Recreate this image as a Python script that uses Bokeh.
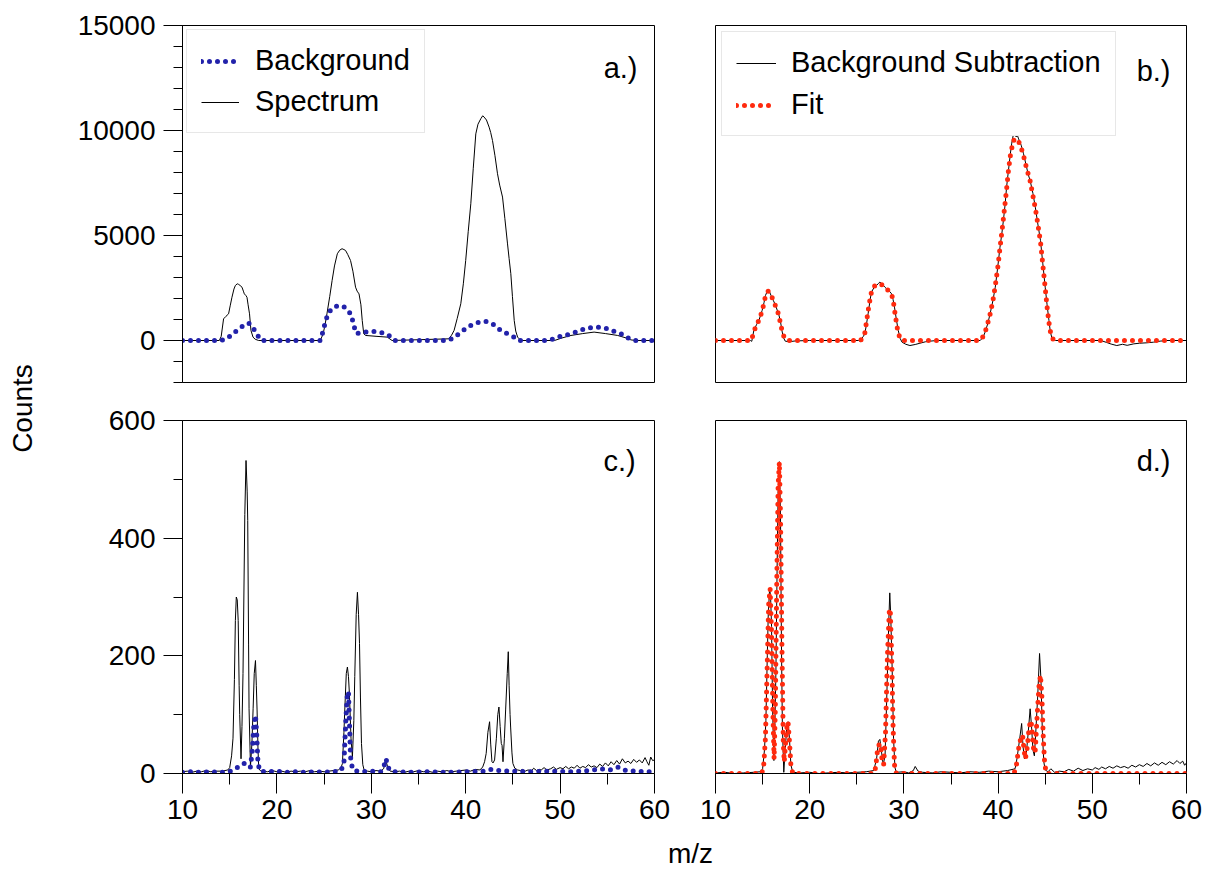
import math
from bokeh.plotting import figure
from bokeh.models import Range1d, FixedTicker, Legend, LegendItem, Label
from bokeh.layouts import row, column
from bokeh.embed import file_html
from bokeh.resources import INLINE

FONT = "Liberation Sans"
BLUE = "#2222aa"
RED = "#ff2a0e"

# ---- data: (m/z, counts) pairs ----
spectrum_a = [
    (10, 0), (13.9, 0), (14.1, 200), (14.35, 1030), (14.6, 1150), (14.88, 1270), (15.05, 1650),
    (15.24, 2060), (15.45, 2450), (15.6, 2620), (15.8, 2700), (15.95, 2670), (16.1, 2620),
    (16.3, 2540), (16.45, 2350), (16.55, 2220), (16.7, 2150), (16.83, 2060), (16.95, 1700),
    (17.1, 1270), (17.25, 480), (17.47, 160), (17.7, 60), (18.07, 0), (24.6, 0), (24.9, 320),
    (25.1, 750), (25.3, 1270), (25.6, 2100), (25.85, 2860), (26.1, 3550), (26.4, 4130),
    (26.65, 4300), (26.9, 4370), (27.1, 4330), (27.27, 4290), (27.5, 4100), (27.8, 3810),
    (28.05, 3300), (28.33, 2540), (28.5, 2350), (28.7, 2220), (28.9, 1700), (29.04, 950),
    (29.2, 320), (29.4, 240), (30.5, 200), (31.7, 160), (32.2, 0), (38.2, 80), (38.5, 250),
    (38.77, 480), (39.1, 1050), (39.48, 1750), (39.75, 2700), (40.0, 3810), (40.27, 5200),
    (40.54, 6510), (40.8, 8200), (41.07, 9840), (41.3, 10300), (41.6, 10560), (41.8, 10700),
    (41.95, 10640), (42.2, 10500), (42.48, 10160), (42.65, 9900), (42.84, 9520), (43.1, 8800),
    (43.37, 7940), (43.6, 7400), (43.9, 6830), (44.15, 5800), (44.43, 4600), (44.6, 3900),
    (44.78, 3180), (44.95, 2100), (45.14, 950), (45.3, 450), (45.5, 160), (45.85, 0),
    (49.4, 0), (50.2, 120), (51.15, 240), (52.4, 330), (53.6, 400), (54.8, 330), (56.1, 240),
    (57.0, 120), (57.5, 30), (58.0, 0), (60, 0),
]

background_a = [
    (10, 0), (14.0, 0), (14.5, 60), (14.88, 160), (15.3, 310), (15.77, 480), (16.1, 600),
    (16.48, 715), (16.75, 790), (17.0, 830), (17.25, 750), (17.54, 560), (17.75, 380),
    (17.96, 240), (18.3, 0), (24.6, 0), (24.8, 300), (25.04, 715), (25.25, 1050), (25.5, 1350),
    (26.03, 1590), (26.4, 1650), (26.67, 1670), (27.0, 1630), (27.27, 1560), (27.55, 1420),
    (27.8, 1270), (28.08, 870), (28.25, 550), (28.44, 320), (28.8, 380), (29.2, 400),
    (29.8, 425), (30.3, 430), (30.8, 400), (31.34, 350), (31.7, 280), (32.05, 190), (32.47, 0),
    (38.06, 0), (38.77, 130), (39.1, 250), (39.48, 400), (40.0, 560), (40.54, 715), (41.0, 810),
    (41.42, 875), (41.8, 900), (42.13, 905), (42.5, 870), (42.84, 795), (43.3, 640),
    (43.7, 480), (44.0, 400), (44.43, 320), (44.8, 230), (45.14, 160), (45.6, 0), (48.7, 0),
    (49.2, 60), (49.74, 160), (50.4, 230), (51.15, 320), (51.9, 440), (52.57, 555),
    (53.3, 620), (53.98, 635), (54.5, 615), (55.05, 555), (55.7, 440), (56.46, 320),
    (56.9, 200), (57.35, 80), (57.9, 0), (60, 0),
]

subtracted_b = [
    (10, 0), (13.7, 0), (13.85, -40), (14.07, 480), (14.35, 750), (14.6, 950), (14.95, 1430),
    (15.15, 1800), (15.3, 2140), (15.45, 2300), (15.6, 2390), (15.75, 2300), (15.9, 2140),
    (16.15, 1900), (16.37, 1670), (16.55, 1450), (16.7, 1270), (16.9, 900), (17.05, 480),
    (17.2, 150), (17.4, -30), (17.8, -60), (18.5, -20), (20, 0), (25.2, 0), (25.4, -60),
    (25.5, 80), (25.7, 200), (25.85, 320), (26.0, 700), (26.2, 1270), (26.4, 1900),
    (26.55, 2300), (26.8, 2500), (27.1, 2620), (27.3, 2720), (27.45, 2780), (27.6, 2720),
    (27.8, 2640), (27.98, 2540), (28.3, 2400), (28.5, 2330), (28.7, 2220), (28.85, 1950),
    (29.0, 1590), (29.2, 1000), (29.4, 480), (29.6, 100), (29.8, -80), (30.2, -180),
    (30.64, -240), (31.2, -190), (31.7, -130), (32.3, -60), (32.8, -30), (33.5, 0), (38.1, 0),
    (38.4, 150), (38.62, 400), (38.9, 800), (39.15, 1270), (39.45, 1900), (39.7, 2540),
    (39.95, 3450), (40.2, 4440), (40.4, 5100), (40.56, 5710), (40.75, 6500), (40.9, 7300),
    (41.1, 8100), (41.3, 8890), (41.45, 9400), (41.6, 9760), (41.75, 9820), (41.9, 9700),
    (42.05, 9760), (42.18, 9600), (42.45, 9300), (42.7, 8890), (43.0, 8300), (43.2, 7900),
    (43.4, 7620), (43.7, 7000), (43.95, 6350), (44.2, 5600), (44.5, 4760), (44.75, 3650),
    (45.0, 2540), (45.2, 1700), (45.4, 950), (45.55, 400), (45.74, 80), (46.1, 0), (50.9, 0),
    (51.5, -90), (52.0, -170), (52.6, -240), (53.2, -180), (53.7, -230), (54.4, -160),
    (55.0, -130), (55.8, -110), (56.5, -80), (57.2, -30), (57.9, 0), (60, 0),
]

fit_b = [
    (10, 0), (13.8, 0), (14.07, 400), (14.3, 700), (14.6, 950), (14.95, 1400), (15.3, 2100),
    (15.6, 2350), (15.9, 2150), (16.2, 1850), (16.45, 1550), (16.7, 1250), (16.95, 700),
    (17.15, 300), (17.4, 80), (17.7, 0), (25.4, 0), (25.6, 150), (25.85, 350), (26.1, 1100),
    (26.3, 1700), (26.55, 2300), (26.9, 2600), (27.3, 2700), (27.6, 2680), (28.0, 2520),
    (28.4, 2360), (28.7, 2200), (28.9, 1800), (29.1, 1150), (29.35, 450), (29.6, 80),
    (29.9, 0), (38.1, 0), (38.5, 250), (38.8, 650), (39.15, 1250), (39.45, 1900), (39.7, 2600),
    (40.0, 3600), (40.25, 4600), (40.55, 5750), (40.9, 7200), (41.1, 8100), (41.3, 8800),
    (41.6, 9500), (41.85, 9620), (42.1, 9550), (42.4, 9250), (42.7, 8800), (43.0, 8250),
    (43.4, 7600), (43.95, 6300), (44.2, 5600), (44.5, 4700), (44.75, 3600), (45.0, 2500),
    (45.2, 1600), (45.4, 850), (45.6, 300), (45.85, 50), (46.1, 0), (60, 0),
]

spectrum_c = [
    (10, 3), (10.5, 4), (11, 2), (11.5, 4), (12, 3), (12.5, 5), (13, 3), (13.5, 4), (14, 4),
    (14.5, 5), (14.8, 6), (15.0, 10), (15.2, 30), (15.35, 60), (15.5, 160), (15.6, 260),
    (15.7, 300), (15.8, 295), (15.9, 260), (16.0, 150), (16.06, 100), (16.2, 25), (16.3, 80),
    (16.41, 170), (16.5, 300), (16.6, 440), (16.73, 532), (16.85, 480), (16.91, 430),
    (17.0, 220), (17.05, 110), (17.2, 12), (17.35, 50), (17.48, 110), (17.6, 170),
    (17.73, 192), (17.82, 150), (17.9, 108), (18.0, 40), (18.08, 8), (18.3, 4), (19, 3),
    (19.5, 5), (20, 3), (20.5, 4), (21, 2), (21.5, 4), (22, 3), (22.5, 4), (23, 3), (23.5, 5),
    (24, 3), (24.5, 4), (25, 3), (25.5, 4), (26, 5), (26.5, 6), (26.8, 10), (26.94, 17),
    (27.1, 70), (27.19, 108), (27.35, 170), (27.47, 181), (27.58, 165), (27.68, 136),
    (27.85, 60), (28.0, 28), (28.15, 90), (28.25, 165), (28.4, 270), (28.53, 308),
    (28.65, 270), (28.75, 221), (28.85, 130), (28.96, 51), (29.1, 15), (29.24, 6), (29.6, 4),
    (30, 3), (30.5, 5), (31, 4), (31.3, 8), (31.55, 22), (31.75, 10), (32, 4), (32.5, 3),
    (33, 4), (33.5, 2), (34, 4), (34.5, 3), (35, 5), (35.5, 3), (36, 4), (36.5, 2), (37, 4),
    (37.5, 3), (38, 5), (38.5, 3), (39, 4), (39.5, 5), (40.05, 6), (40.5, 4), (41, 7),
    (41.5, 6), (41.8, 11), (42.0, 20), (42.17, 34), (42.35, 70), (42.53, 88), (42.65, 50),
    (42.78, 20), (42.9, 18), (43.06, 23), (43.25, 60), (43.4, 100), (43.52, 113),
    (43.65, 80), (43.77, 51), (43.85, 48), (43.95, 20), (44.1, 60), (44.23, 108), (44.4, 170),
    (44.51, 207), (44.6, 150), (44.7, 100), (44.76, 79), (44.9, 35), (45.0, 17), (45.2, 9),
    (45.5, 6), (45.8, 5), (46.0, 7), (46.3, 4), (46.6, 6), (47.0, 5), (47.2, 9), (47.5, 5),
    (47.8, 7), (48.0, 6), (48.3, 10), (48.6, 6), (49.0, 8), (49.3, 11), (49.6, 7), (50.0, 10),
    (50.3, 8), (50.6, 12), (50.9, 8), (51.2, 11), (51.5, 9), (51.8, 14), (52.1, 9),
    (52.4, 12), (52.7, 10), (53.0, 15), (53.3, 11), (53.6, 13), (53.9, 10), (54.2, 16),
    (54.5, 12), (54.8, 18), (55.1, 13), (55.4, 20), (55.7, 15), (56.0, 22), (56.3, 16),
    (56.6, 25), (56.9, 18), (57.2, 21), (57.5, 17), (57.8, 24), (58.1, 19), (58.4, 23),
    (58.7, 18), (59.0, 27), (59.2, 20), (59.4, 14), (59.6, 28), (59.8, 22), (60, 23),
]

background_c = [
    (10, 2), (11, 3), (12, 2), (13, 3), (14, 2), (15, 3), (15.4, 7), (15.8, 10), (16.2, 14),
    (16.5, 17), (16.8, 18), (17.0, 15), (17.2, 11), (17.4, 40), (17.55, 80), (17.73, 99),
    (17.85, 70), (18.0, 17), (18.2, 4), (19, 3), (20, 4), (21, 2), (22, 3), (23, 2), (24, 3),
    (25, 2), (26, 3), (26.8, 5), (27.1, 17), (27.3, 90), (27.47, 136), (27.58, 139),
    (27.68, 90), (27.8, 28), (28.0, 8), (28.2, 5), (29, 3), (30, 4), (31, 3), (31.3, 10),
    (31.55, 25), (31.75, 14), (31.9, 6), (32.5, 3), (34, 2), (36, 3), (38, 2), (40, 3),
    (42, 4), (42.7, 7), (43.5, 5), (45, 4), (47, 3), (49, 4), (51, 3), (53, 5), (54.4, 8),
    (55.3, 6), (56.2, 11), (57, 5), (58, 4), (59, 3), (60, 3),
]

subtracted_d = [
    (10, 1), (11, 2), (12, 0), (13, 1), (14, 2), (14.8, 3), (15.0, 8), (15.2, 40), (15.35, 90),
    (15.5, 200), (15.6, 270), (15.75, 315), (15.85, 300), (15.95, 250), (16.06, 110),
    (16.2, 22), (16.3, 80), (16.41, 170), (16.55, 360), (16.65, 480), (16.78, 530),
    (16.9, 440), (17.0, 220), (17.1, 80), (17.25, 2), (17.4, 40), (17.55, 75), (17.7, 88),
    (17.85, 60), (18.0, 15), (18.2, 2), (19, 1), (20, 2), (21, 0), (22, 1), (23, 2), (24, 1),
    (25, 2), (26, 3), (26.8, 5), (27.1, 25), (27.3, 55), (27.45, 58), (27.6, 40), (27.8, 15),
    (28.0, 30), (28.2, 140), (28.4, 260), (28.5, 307), (28.6, 270), (28.75, 180), (28.9, 60),
    (29.05, 10), (29.2, 2), (30, 3), (30.5, 1), (31, 5), (31.2, 12), (31.5, 4), (32, 2),
    (33, 1), (34, 3), (35, 2), (36, 1), (37, 3), (38, 2), (39, 4), (40, 3), (41, 5), (41.8, 8),
    (42.0, 25), (42.3, 60), (42.5, 85), (42.65, 45), (42.8, 25), (43.0, 35), (43.2, 70),
    (43.4, 110), (43.55, 80), (43.7, 40), (43.85, 30), (44.0, 70), (44.2, 130), (44.4, 204),
    (44.55, 160), (44.7, 70), (44.85, 20), (45.0, 6), (45.3, 3), (45.6, 8), (46.0, 2),
    (46.5, 4), (47.0, 3), (47.5, 7), (48.0, 4), (48.5, 9), (49.0, 5), (49.5, 8), (50.0, 6),
    (50.3, 10), (50.7, 7), (51.0, 11), (51.4, 8), (51.8, 12), (52.2, 9), (52.6, 13),
    (53.0, 10), (53.4, 12), (53.8, 9), (54.2, 14), (54.6, 11), (55.0, 15), (55.4, 12),
    (55.8, 17), (56.2, 13), (56.6, 18), (57.0, 14), (57.4, 19), (57.8, 15), (58.2, 20),
    (58.6, 16), (59.0, 22), (59.3, 17), (59.6, 21), (59.8, 14), (60, 18),
]

fit_d = [
    (10, 0), (14.9, 0), (15.1, 10), (15.3, 60), (15.5, 190), (15.65, 290), (15.8, 314),
    (15.95, 240), (16.1, 100), (16.22, 25), (16.35, 110), (16.5, 320), (16.65, 490),
    (16.78, 529), (16.9, 440), (17.05, 220), (17.2, 50), (17.3, 20), (17.45, 55), (17.6, 82),
    (17.7, 88), (17.85, 55), (18.0, 15), (18.2, 0), (26.8, 0), (27.0, 10), (27.2, 40),
    (27.4, 51), (27.55, 45), (27.7, 20), (27.85, 15), (28.05, 70), (28.25, 200), (28.45, 275),
    (28.55, 280), (28.7, 200), (28.85, 80), (29.0, 15), (29.2, 0), (41.7, 0), (41.95, 15),
    (42.2, 45), (42.45, 63), (42.6, 65), (42.75, 40), (42.9, 25), (43.1, 45), (43.3, 80),
    (43.5, 90), (43.65, 65), (43.8, 35), (43.95, 40), (44.15, 100), (44.35, 150),
    (44.5, 167), (44.65, 130), (44.8, 60), (44.95, 15), (45.15, 0), (60, 0),
]

mz_ticks = [10, 20, 30, 40, 50, 60]
mz_minor_ticks = [15, 25, 35, 45, 55]
top_ticks = [0, 5000, 10000, 15000]
top_minor_ticks = list(range(-2000, 15001, 1000))
bottom_ticks = [0, 200, 400, 600]
bottom_minor_ticks = [100, 300, 500]


def xy(pairs):
    return [p[0] for p in pairs], [p[1] for p in pairs]


def panel(y_lo, y_hi, fw, fh, left, right, top, bottom, show_x, show_y):
    p = figure(
        frame_width=fw, frame_height=fh,
        min_border_left=left, min_border_right=right,
        min_border_top=top, min_border_bottom=bottom,
        x_range=Range1d(10, 60), y_range=Range1d(y_lo, y_hi),
        x_axis_location="below" if show_x else None,
        y_axis_location="left" if show_y else None,
        toolbar_location=None, output_backend="svg",
    )
    p.title.visible = False
    p.outline_line_color = "black"
    p.outline_line_alpha = 1.0
    p.outline_line_width = 1
    p.background_fill_color = "white"
    p.border_fill_color = "white"
    for g in p.grid:
        g.visible = False
    for ax in p.axis:
        ax.axis_line_color = "black"
        ax.major_tick_line_color = "black"
        ax.minor_tick_line_color = "black"
        ax.major_tick_in = 0
        ax.minor_tick_in = 0
        ax.major_label_text_font = FONT
        ax.major_label_text_font_size = "28px"
        ax.major_label_text_color = "black"
    return p


def style_x(p):
    ax = p.xaxis[0]
    ax.ticker = FixedTicker(ticks=mz_ticks, minor_ticks=mz_minor_ticks)
    ax.major_tick_out = 20
    ax.minor_tick_out = 11
    ax.major_label_standoff = 6


def style_y(p, ticks, minor):
    ax = p.yaxis[0]
    ax.ticker = FixedTicker(ticks=ticks, minor_ticks=minor)
    ax.major_tick_out = 19
    ax.minor_tick_out = 9
    ax.major_label_standoff = 8


def tag(p, x, y, text):
    p.add_layout(Label(x=x, y=y, text=text, text_align="right", text_baseline="alphabetic",
                       text_font=FONT, text_font_size="29px", text_color="black"))


def add_legend(p, items, margin, padding, glyph_w, standoff, spacing):
    lg = Legend(items=items, location="top_left")
    lg.margin = margin
    lg.padding = padding
    lg.glyph_width = glyph_w
    lg.glyph_height = 20
    lg.label_standoff = standoff
    lg.spacing = spacing
    lg.label_text_font = FONT
    lg.label_text_font_size = "29px"
    lg.label_text_color = "black"
    lg.border_line_color = "#cfcfcf"
    lg.border_line_width = 1
    lg.background_fill_color = "white"
    lg.background_fill_alpha = 1.0
    p.add_layout(lg)


DOTS = dict(line_width=5, line_dash="0 8", line_cap="round")

# a.) raw spectrum with estimated background
pa = panel(-2000, 15000, 472, 357, 142, 45, 25, 2, False, True)
style_y(pa, top_ticks, top_minor_ticks)
x, y = xy(spectrum_a)
ra_spec = pa.line(x, y, line_color="black", line_width=1)
x, y = xy(background_a)
ra_bg = pa.line(x, y, line_color=BLUE, **DOTS)
add_legend(pa, [LegendItem(label="Background", renderers=[ra_bg]),
                LegendItem(label="Spectrum", renderers=[ra_spec])],
           margin=4, padding=14, glyph_w=38, standoff=16, spacing=8)
tag(pa, 58.2, 13000, "a.)")

# b.) background-subtracted spectrum with fit
pb = panel(-2000, 15000, 471, 357, 16, 20, 25, 2, False, False)
x, y = xy(subtracted_b)
rb_sub = pb.line(x, y, line_color="black", line_width=1)
x, y = xy(fit_b)
rb_fit = pb.line(x, y, line_color=RED, **DOTS)
add_legend(pb, [LegendItem(label="Background Subtraction", renderers=[rb_sub]),
                LegendItem(label="Fit", renderers=[rb_fit])],
           margin=6, padding=14, glyph_w=40, standoff=15, spacing=9)
tag(pb, 58.3, 12850, "b.)")

# c.) low-count spectrum with background
pc = panel(0, 600, 472, 353, 142, 45, 36, 58, True, True)
style_x(pc)
style_y(pc, bottom_ticks, bottom_minor_ticks)
x, y = xy(spectrum_c)
pc.line(x, y, line_color="black", line_width=1)
x, y = xy(background_c)
pc.line(x, y, line_color=BLUE, **DOTS)
tag(pc, 58.0, 532, "c.)")

# d.) low-count background subtraction with fit
pd_ = panel(0, 600, 471, 353, 16, 20, 36, 58, True, False)
style_x(pd_)
x, y = xy(subtracted_d)
pd_.line(x, y, line_color="black", line_width=1)
x, y = xy(fit_d)
pd_.line(x, y, line_color=RED, **DOTS)
tag(pd_, 58.3, 532, "d.)")


def strip(w, h):
    s = figure(frame_width=w, frame_height=h, x_range=Range1d(0, w), y_range=Range1d(0, h),
               x_axis_location=None, y_axis_location=None, min_border=0,
               toolbar_location=None, output_backend="svg")
    s.title.visible = False
    s.outline_line_color = None
    s.background_fill_color = "white"
    s.border_fill_color = "white"
    for g in s.grid:
        g.visible = False
    return s


# shared axis titles
left_strip = strip(40, 871)
left_strip.add_layout(Label(x=22, y=463, text="Counts", angle=math.pi / 2, text_align="center",
                            text_baseline="middle", text_font=FONT, text_font_size="28px",
                            text_color="black"))

bottom_strip = strip(1166, 40)
bottom_strip.add_layout(Label(x=650, y=18, text="m/z", text_align="center",
                              text_baseline="middle", text_font=FONT, text_font_size="28px",
                              text_color="black"))

layout = row(left_strip, column(row(pa, pb), row(pc, pd_), bottom_strip))

open("out.html", "w").write(file_html(layout, INLINE))
